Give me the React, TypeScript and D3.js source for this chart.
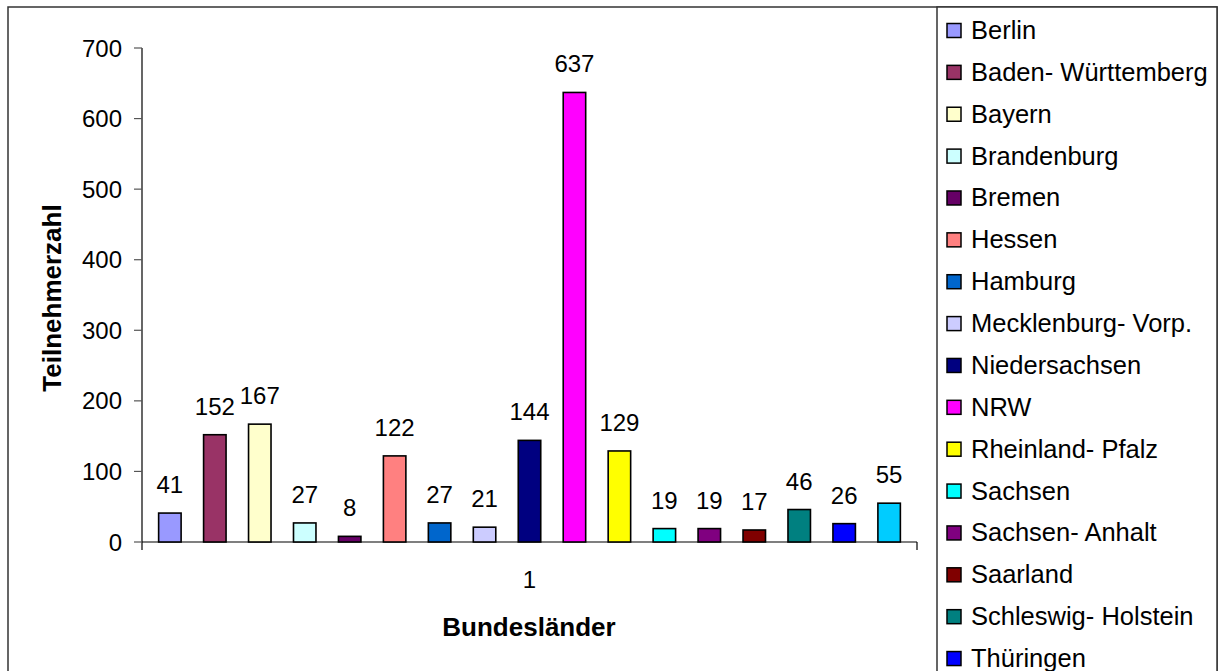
import React from "react";
import * as d3 from "d3";

// Teilnehmer je Bundesland
const seriesNames = [
  "Berlin",
  "Baden- Württemberg",
  "Bayern",
  "Brandenburg",
  "Bremen",
  "Hessen",
  "Hamburg",
  "Mecklenburg- Vorp.",
  "Niedersachsen",
  "NRW",
  "Rheinland- Pfalz",
  "Sachsen",
  "Sachsen- Anhalt",
  "Saarland",
  "Schleswig- Holstein",
  "Thüringen",
  "Ausland",
];
const seriesValues = [41, 152, 167, 27, 8, 122, 27, 21, 144, 637, 129, 19, 19, 17, 46, 26, 55];
const seriesColors = [
  "#9999FF", "#993366", "#FFFFCC", "#CCFFFF", "#660066", "#FF8080",
  "#0066CC", "#CCCCFF", "#000080", "#FF00FF", "#FFFF00", "#00FFFF",
  "#800080", "#800000", "#008080", "#0000FF", "#00CCFF",
];
const categories = ["1"];
const yTicks = [0, 100, 200, 300, 400, 500, 600, 700];

const W = 1223;
const H = 671;
const FONT = "'Liberation Sans', Arial, sans-serif";

export default function App() {
  const plotLeft = 142;
  const plotRight = 917;
  const plotTop = 48;
  const plotBottom = 542;

  const y = d3.scaleLinear().domain([0, 700]).range([plotBottom, plotTop]);
  const xCat = d3.scaleBand().domain(categories).range([plotLeft, plotRight]).padding(0);
  const xSeries = d3
    .scaleBand<string>()
    .domain(seriesNames)
    .range([0, xCat.bandwidth()])
    .paddingInner(0.5)
    .paddingOuter(0.37);

  const legendX = 947;
  const legendY0 = 30;
  const legendStep = 41.87;

  return (
    <svg
      width={W}
      height={H}
      style={{ position: "absolute", left: 0, top: 0, background: "#fff" }}
      fontFamily={FONT}
    >
      {/* chart frame */}
      <rect x={8} y={7} width={1209} height={H + 20} fill="#fff" stroke="#333" strokeWidth={1.5} />
      {/* legend box */}
      <rect x={937} y={7} width={280} height={H + 20} fill="#fff" stroke="#333" strokeWidth={1.5} />

      {/* y axis */}
      <line x1={plotLeft} x2={plotLeft} y1={plotTop} y2={plotBottom + 8} stroke="#000" strokeWidth={1.2} />
      {yTicks.map((t) => (
        <g key={t}>
          <line x1={plotLeft - 8} x2={plotLeft} y1={y(t)} y2={y(t)} stroke="#555" strokeWidth={1.2} />
          <text x={122} y={y(t) + 8.5} textAnchor="end" fontSize={24} fill="#000">
            {t}
          </text>
        </g>
      ))}

      {/* x axis */}
      <line x1={plotLeft} x2={plotRight} y1={plotBottom} y2={plotBottom} stroke="#000" strokeWidth={1.2} />
      <line x1={plotRight} x2={plotRight} y1={plotBottom} y2={plotBottom + 8} stroke="#000" strokeWidth={1.2} />
      {categories.map((c) => (
        <text
          key={c}
          x={(xCat(c) ?? 0) + xCat.bandwidth() / 2}
          y={588}
          textAnchor="middle"
          fontSize={24}
        >
          {c}
        </text>
      ))}

      {/* bars and value labels */}
      {categories.map((c) =>
        seriesNames.map((name, i) => {
          const v = seriesValues[i];
          const x0 = (xCat(c) ?? 0) + (xSeries(name) ?? 0);
          return (
            <g key={name}>
              <rect
                x={x0}
                y={y(v)}
                width={xSeries.bandwidth()}
                height={plotBottom - y(v)}
                fill={seriesColors[i]}
                stroke="#000"
                strokeWidth={1.6}
              />
              <text
                x={x0 + xSeries.bandwidth() / 2}
                y={y(v) - 20}
                textAnchor="middle"
                fontSize={24}
              >
                {v}
              </text>
            </g>
          );
        })
      )}

      {/* axis titles */}
      <text
        transform={`translate(61, 298) rotate(-90)`}
        textAnchor="middle"
        fontSize={26}
        fontWeight="bold"
      >
        Teilnehmerzahl
      </text>
      <text x={529} y={636} textAnchor="middle" fontSize={26} fontWeight="bold">
        Bundesländer
      </text>

      {/* legend */}
      {seriesNames.map((name, i) => {
        const cy = legendY0 + i * legendStep;
        return (
          <g key={name}>
            <rect x={legendX} y={cy - 6.5} width={14} height={14} fill={seriesColors[i]} stroke="#000" strokeWidth={1.5} />
            <text x={971} y={cy + 9} fontSize={25.5}>
              {name}
            </text>
          </g>
        );
      })}
    </svg>
  );
}
